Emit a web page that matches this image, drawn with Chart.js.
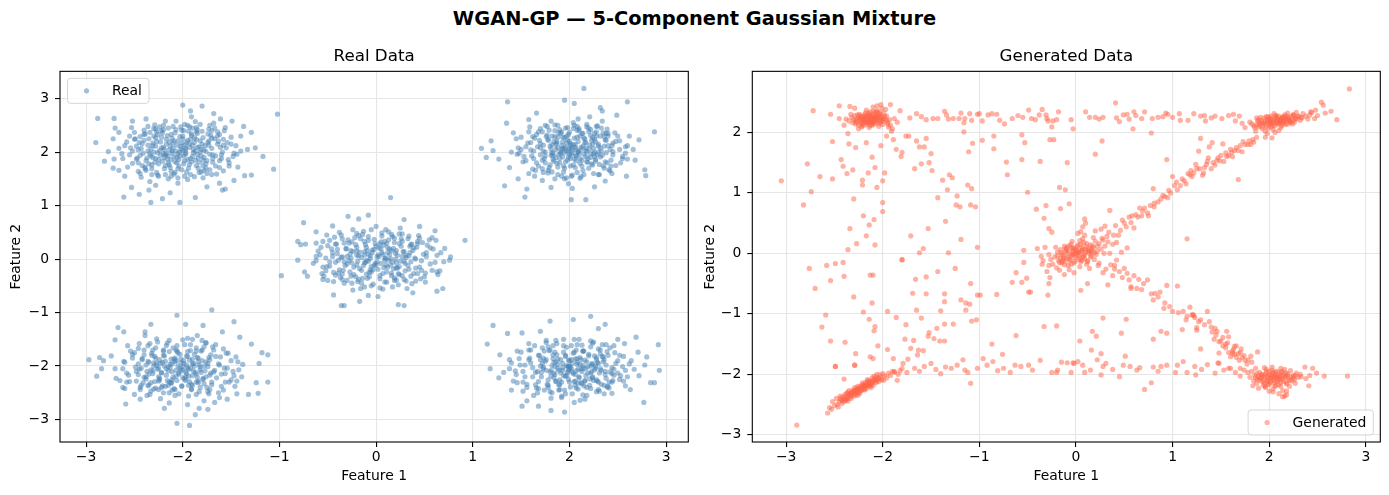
<!DOCTYPE html>
<html>
<head>
<meta charset="utf-8">
<script src="https://cdn.jsdelivr.net/npm/chart.js@4.4.1/dist/chart.umd.min.js"></script>
<style>
  body { margin: 0; background: #fff; width: 1389px; height: 495px; position: relative; overflow: hidden; font-family: "DejaVu Sans"; }
  #suptitle { position: absolute; top: 7px; left: 0; width: 1389px; text-align: center; font-weight: bold; font-size: 19.4px; line-height: 23px; color: #000; }
  .panel { position: absolute; top: 0; height: 495px; }
</style>
</head>
<body>
<div id="suptitle">WGAN-GP — 5-Component Gaussian Mixture</div>
<div class="panel" style="left:0;width:694px"><canvas id="realChart"></canvas></div>
<div class="panel" style="left:694px;width:695px"><canvas id="genChart"></canvas></div>
<script>
const axisTicks = [-3, -2, -1, 0, 1, 2, 3];
const genYTicks = [-3, -2, -1, 0, 1, 2];

// real data, one array per mixture component
const realTopLeft = [
  [-2.31,2.12],[-2.18,1.95],[-2.05,2.21],[-1.92,1.88],[-1.81,2.05],[-2.12,2.33],[-2.25,1.78],[-1.97,2.04],[-1.74,2.18],[-2.41,1.98],
  [-2.08,1.82],[-1.88,2.27],[-2.22,2.08],[-1.66,1.93],[-2.35,2.25],[-2.01,1.67],[-1.79,1.75],[-2.15,2.45],[-1.94,2.39],[-2.48,2.11],
  [-2.28,1.88],[-1.85,1.96],[-2.02,2.11],[-1.71,2.31],[-2.19,1.69],[-1.61,2.09],[-2.38,1.84],[-2.11,2.02],[-1.90,2.13],[-2.27,2.38],
  [-1.83,1.62],[-2.55,1.95],[-1.99,1.93],[-2.07,2.42],[-1.76,2.01],[-2.44,2.29],[-2.16,1.87],[-1.69,1.81],[-2.32,1.69],[-1.95,2.22],
  [-2.04,1.74],[-1.86,2.46],[-2.23,2.19],[-1.58,2.24],[-2.52,1.79],[-2.13,2.11],[-1.80,2.39],[-2.36,2.02],[-1.93,1.77],[-2.09,1.59],
  [-1.72,1.67],[-2.29,2.51],[-1.64,2.38],[-2.46,1.64],[-2.00,2.30],[-1.87,1.85],[-2.20,1.97],[-1.77,2.12],[-2.40,2.41],[-1.53,1.86],
  [-2.14,1.76],[-1.98,2.52],[-2.26,1.57],[-1.68,2.54],[-2.58,2.19],[-1.89,2.05],[-2.06,1.90],[-1.82,2.21],[-2.33,1.93],[-1.62,1.71],
  [-2.17,2.24],[-1.96,1.63],[-2.50,2.37],[-1.73,2.43],[-2.10,2.17],[-2.39,1.72],[-1.84,1.70],[-2.03,2.00],[-1.59,2.00],[-2.24,2.47],
  [-1.91,2.34],[-2.62,1.88],[-1.78,1.90],[-2.12,1.64],[-1.50,2.15],[-2.30,2.00],[-1.98,1.84],[-1.70,2.26],[-2.43,1.53],[-2.07,2.58],
  [-1.65,1.59],[-2.21,1.83],[-1.87,2.57],[-2.53,2.46],[-1.56,2.46],[-2.34,1.45],[-1.95,1.49],[-2.66,2.07],[-1.44,1.96],[-2.18,2.58],
  [-1.79,1.52],[-2.47,1.89],[-1.52,1.74],[-2.01,2.41],[-2.28,2.27],[-1.85,2.09],[-2.15,1.93],[-1.93,2.16],[-2.05,1.97],[-2.20,2.09],
  [-1.97,2.08],[-2.72,1.70],[-2.60,1.55],[-1.40,2.30],[-1.43,1.72],[-2.70,2.45],[-2.52,2.58],[-1.62,1.42],[-2.28,1.38],[-1.75,1.35],
  [-2.05,1.42],[-1.33,2.05],[-2.77,2.01],[-1.91,2.66],[-2.38,2.62],[-1.61,2.62],
  [-2.88,2.63],[-2.71,2.63],[-2.90,2.18],[-2.81,1.83],[-2.71,1.87],[-2.61,1.16],[-2.45,1.21],[-2.33,1.06],[-2.21,1.13],[-2.03,1.06],
  [-2.00,2.88],[-1.80,2.86],[-1.87,1.15],[-1.59,1.29],[-1.02,2.71],[-1.06,1.68],[-1.17,1.92],[-1.25,2.08],[-1.29,2.37],[-1.37,2.48],
  [-1.49,2.58],[-2.53,1.34],[-2.35,1.29],[-2.13,1.24],[-2.66,1.66],[-2.72,2.25],[-2.66,2.37],[-1.29,1.57],[-1.36,1.56],[-1.47,1.47],
  [-1.56,1.31],[-1.68,2.72],[-1.92,2.77],
  [-2.02,2.06],[-1.89,1.99],[-2.14,2.04],[-2.09,1.91],[-1.96,2.18],[-2.26,1.99],[-1.83,2.10],[-2.17,2.15],[-1.99,1.78],[-2.36,2.13],
  [-1.75,1.84],[-2.11,2.26],[-1.91,2.31],[-2.29,1.81],[-1.70,2.07],[-2.04,1.86],[-2.21,2.36],[-1.86,1.75],[-2.44,1.94],[-1.93,2.09],
  [-2.06,2.13],[-1.79,2.27],[-2.33,2.06],[-2.13,1.71],[-1.64,2.15],[-2.00,2.25],[-2.40,2.22],[-1.81,1.93],[-2.19,1.90],[-1.97,1.96],
  [-2.08,2.36],[-1.72,1.96],[-2.30,2.30],[-1.94,1.70],[-2.24,2.03],[-1.85,2.35],[-2.15,1.80],[-1.67,2.25],[-2.46,2.04],[-2.03,1.93],
  [-1.88,2.18],[-2.27,2.20],[-2.10,2.08],[-1.78,2.04],[-2.37,1.89],[-1.99,2.40],[-2.17,1.97],[-1.83,1.81],[-2.05,1.69],[-1.60,1.95],
  [-2.22,2.28],[-1.92,2.24],[-2.32,1.76],[-1.74,2.34],[-2.12,1.86],[-2.01,2.17],[-1.87,2.02],[-2.42,2.16],[-1.69,1.88],[-2.20,2.42],
  [-1.95,1.86],[-2.07,2.02],[-1.80,2.15],[-2.34,1.97],[-2.16,2.31],[-1.90,1.92],[-2.25,1.86],[-1.76,1.70],[-2.49,2.25],[-2.03,2.29],
  [-1.84,1.89],[-2.11,1.98],[-1.98,2.13],[-2.28,2.11],[-1.73,2.21],[-2.18,1.75],[-1.93,2.47],[-2.39,2.34],[-1.62,1.84],[-2.06,1.80],
  [-1.97,1.99],[-2.14,2.19],[-1.86,2.24],[-2.23,1.94],[-2.00,2.03],[-1.82,2.00],[-2.09,2.21],[-2.31,2.17],[-1.91,1.82],[-2.19,2.05],
  [-2.45,2.18],[-1.55,2.08],[-2.38,1.66],[-1.62,2.33],[-2.05,1.52],[-1.95,2.50],[-2.52,2.02],[-1.48,1.92],[-2.30,2.44],[-1.70,1.58],
  [-2.42,1.75],[-1.57,2.40],[-2.15,1.50],[-1.82,2.52],[-2.55,2.30],[-1.45,2.12],[-2.27,1.62],[-1.67,2.45],[-2.48,1.87],[-1.52,1.80],
  [-2.34,2.37],[-1.75,1.60],[-2.60,2.12],[-1.40,2.02],[-2.20,2.50],[-1.88,1.54],[-2.44,1.60],[-1.63,2.20],[-2.10,2.48],[-1.78,1.66],
  [-2.57,1.72],[-1.58,1.65],[-2.36,2.48],[-1.72,2.50],[-2.25,1.55],[-1.50,2.28],[-2.63,1.97],[-1.92,1.58],[-2.40,2.33],[-1.60,1.88],
  [-2.18,1.58],[-1.85,2.42],[-2.50,2.24],[-1.66,1.74],[-2.32,1.58],[-1.54,2.18],[-2.02,2.47],[-1.98,1.55],[-2.46,1.80],[-1.70,2.40],
  [-2.28,2.43],[-1.81,1.63],[-2.54,2.08],[-1.47,1.98],[-2.12,1.55],[-1.90,2.45],[-2.39,1.69],[-1.64,2.30],[-2.22,2.40],[-1.76,1.78],
  [-2.35,1.78],[-1.58,2.13],[-2.08,1.62],[-1.86,2.38],[-2.43,2.07],[-1.69,1.95],[-2.26,2.33],[-1.79,1.85],[-2.31,1.90],[-1.73,2.13]
];
const realTopRight = [
  [1.82,2.14],[2.07,1.93],[1.95,2.27],[2.21,2.06],[1.74,1.88],[2.13,2.35],[1.88,1.72],[2.32,1.91],[2.02,2.09],[1.69,2.22],
  [2.26,2.24],[1.91,1.97],[2.11,1.79],[1.79,2.41],[2.40,2.12],[1.98,1.85],[2.17,2.18],[1.63,2.02],[2.35,1.74],[1.86,2.05],
  [2.04,2.44],[2.28,2.38],[1.72,1.69],[2.09,2.01],[1.94,1.63],[2.45,2.01],[1.81,1.94],[2.19,1.88],[1.57,2.17],[2.00,2.20],
  [2.36,2.29],[1.89,2.36],[2.14,1.66],[1.66,1.80],[2.25,1.97],[1.97,2.02],[2.08,2.28],[1.76,2.29],[2.43,1.85],[1.84,1.83],
  [2.01,1.74],[2.30,2.11],[1.92,2.12],[2.18,2.47],[1.61,1.93],[2.05,1.87],[1.85,2.51],[2.38,1.99],[1.70,2.08],[2.12,2.09],
  [1.99,2.33],[2.23,1.78],[1.78,1.61],[2.52,2.21],[1.93,1.91],[2.15,1.96],[1.68,2.38],[2.29,2.49],[2.03,1.57],[1.87,2.20],
  [2.41,1.67],[1.55,1.84],[2.10,2.40],[1.80,1.76],[2.33,2.02],[1.96,2.45],[2.20,1.70],[1.73,2.13],[2.47,2.36],[2.06,2.14],
  [1.90,1.80],[2.27,1.83],[1.62,2.29],[2.16,2.25],[1.83,1.98],[2.39,2.43],[2.00,1.96],[1.75,2.00],[2.24,2.15],[1.95,1.70],
  [2.55,1.92],[1.88,2.28],[2.13,1.85],[1.65,1.66],[2.31,1.58],[2.04,2.55],[1.50,2.05],[2.22,2.31],[1.97,1.52],[2.58,2.10],
  [1.81,2.58],[2.11,1.51],[1.59,2.47],[2.44,1.60],[1.72,1.47],[2.34,2.58],[2.07,2.05],[1.93,2.07],[2.17,2.03],[1.86,1.90],
  [2.01,2.16],[2.26,1.92],[2.62,2.30],[1.46,1.96],[2.48,1.75],[1.77,2.48],[2.09,2.62],[1.99,1.41],[2.37,1.46],[1.64,1.55],
  [2.15,3.19],[1.36,2.94],[1.95,2.97],[2.05,2.91],[2.60,2.94],[2.88,2.38],[1.09,2.07],[1.14,1.90],[1.33,1.37],[1.54,1.16],
  [2.02,1.11],[2.17,1.11],[1.81,1.34],[2.78,1.67],[2.79,1.56],[2.72,2.23],[2.32,2.83],[2.34,2.77],[2.49,2.69],[1.66,2.73],
  [1.58,2.61],[1.19,2.21],[1.21,2.03],[1.27,1.87],[1.35,2.54],[2.26,1.35],[2.03,1.32],[2.59,1.55],[2.60,1.87],[2.68,1.85],
  [1.47,1.50],[1.56,1.31],[1.42,2.36],[2.66,2.05],[1.38,1.71],[2.21,2.66],
  [2.03,2.04],[1.89,1.96],[2.14,2.11],[1.97,2.17],[2.22,1.97],[1.81,2.06],[2.07,1.84],[1.93,2.28],[2.30,2.15],[1.75,1.93],
  [2.11,2.30],[1.99,1.91],[2.25,2.07],[1.86,2.14],[2.04,1.76],[2.37,2.23],[1.70,2.16],[2.17,1.92],[1.92,2.04],[2.09,2.20],
  [2.27,1.86],[1.83,1.86],[2.00,2.37],[2.42,2.05],[1.78,2.24],[2.13,1.74],[1.95,1.99],[2.20,2.38],[1.87,1.79],[2.34,1.94],
  [2.06,2.09],[1.73,2.02],[2.16,2.18],[1.91,2.35],[2.28,2.30],[2.01,1.88],[1.84,2.20],[2.39,1.80],[2.10,1.97],[1.96,2.10],
  [2.23,2.22],[1.79,1.71],[2.05,2.26],[2.32,2.08],[1.90,1.88],[2.12,2.04],[1.67,2.10],[2.19,1.81],[1.98,2.23],[2.45,2.17],
  [1.82,1.99],[2.08,2.41],[2.26,2.00],[1.94,1.74],[2.15,2.26],[1.77,2.32],[2.35,2.36],[2.02,1.95],[1.88,2.08],[2.21,2.13],
  [2.00,2.06],[1.85,2.29],[2.31,1.77],[2.07,1.93],[1.93,2.19],[2.18,2.01],[1.72,1.85],[2.40,2.30],[2.04,2.14],[1.96,1.82],
  [2.24,2.27],[1.80,2.11],[2.11,1.88],[1.99,2.02],[2.29,1.95],[1.90,2.42],[2.14,2.35],[1.83,1.93],[2.06,1.71],[2.36,2.11],
  [2.01,2.12],[1.91,2.00],[2.17,2.08],[1.97,2.30],[2.09,2.00],[2.27,2.19],[1.87,2.17],[2.03,1.99],[2.22,1.90],[1.95,2.07],
  [1.55,2.10],[2.45,1.95],[1.62,1.68],[2.38,2.35],[1.95,1.50],[2.05,2.50],[1.48,1.98],[2.52,2.05],[1.70,2.44],[2.30,1.58],
  [1.58,2.38],[2.43,1.74],[1.85,1.50],[2.18,2.52],[1.45,2.25],[2.55,1.88],[1.73,1.62],[2.33,2.45],[1.52,1.82],[2.48,2.20],
  [1.66,2.33],[2.25,1.60],[1.40,2.00],[2.60,2.12],[1.88,2.50],[2.12,1.54],[1.63,1.88],[2.40,2.35],[1.78,1.66],[2.22,2.42],
  [1.58,1.60],[2.42,1.65],[1.75,2.50],[2.28,2.48],[1.50,2.28],[2.58,1.98],[1.92,1.55],[2.08,2.48],[1.60,2.18],[2.37,1.82],
  [1.85,2.40],[2.15,1.58],[1.53,1.92],[2.50,2.30],[1.68,1.74],[2.32,2.30],[1.98,2.46],[2.02,1.55],[1.72,2.38],[2.44,2.12],
  [1.82,1.63],[2.20,2.45],[1.47,2.08],[2.53,1.80],[1.88,1.58],[2.10,2.44],[1.64,2.26],[2.36,1.70],[1.78,2.22],[2.24,1.76],
  [1.60,2.04],[2.38,2.22],[1.92,2.38],[2.08,1.62],[1.70,1.95],[2.30,2.00],[1.82,2.30],[2.18,1.82],[1.75,1.80],[2.26,2.35]
];
const realCenter = [
  [-0.12,0.08],[0.15,-0.11],[0.03,0.21],[-0.25,-0.07],[0.28,0.14],[-0.05,-0.24],[0.19,0.31],[-0.31,0.19],[0.09,-0.02],[-0.17,-0.18],
  [0.36,-0.05],[0.01,0.04],[-0.08,0.35],[0.24,-0.29],[-0.39,-0.02],[0.12,0.12],[-0.21,0.27],[0.42,0.22],[-0.02,-0.12],[0.31,0.03],
  [-0.14,-0.36],[0.06,0.43],[-0.34,-0.21],[0.18,-0.18],[-0.27,0.09],[0.45,-0.15],[-0.09,0.16],[0.22,0.07],[-0.45,0.12],[0.04,-0.31],
  [0.33,0.38],[-0.18,0.44],[0.11,-0.43],[-0.06,0.01],[0.26,0.24],[-0.37,-0.34],[0.39,-0.27],[-0.11,-0.06],[0.14,0.19],[-0.23,-0.29],
  [0.52,0.05],[-0.01,0.29],[0.29,-0.38],[-0.48,-0.13],[0.07,0.09],[-0.29,0.36],[0.48,0.31],[-0.15,0.03],[0.17,-0.06],[-0.03,-0.47],
  [0.35,0.12],[-0.41,0.28],[0.08,0.26],[-0.20,-0.11],[0.23,-0.48],[-0.52,0.02],[0.02,-0.19],[0.41,-0.41],[-0.13,0.52],[0.27,0.47],
  [-0.33,-0.45],[0.56,-0.09],[-0.07,-0.33],[0.13,0.36],[-0.26,0.16],[0.20,0.00],[-0.56,-0.27],[0.34,-0.19],[-0.10,0.22],[0.05,-0.08],
  [-0.43,0.41],[0.59,0.19],[-0.19,-0.42],[0.10,0.55],[-0.35,0.04],[0.44,0.44],[-0.04,0.12],[0.30,-0.08],[-0.60,0.15],[0.16,-0.26],
  [-0.28,-0.03],[0.63,-0.24],[0.00,0.61],[-0.16,-0.55],[0.37,0.28],[-0.50,-0.40],[0.21,0.16],[-0.08,-0.04],[0.50,-0.33],[-0.24,0.55],
  [0.07,-0.56],[-0.65,-0.08],[0.67,0.12],[-0.38,0.50],[0.32,-0.55],[-0.12,0.33],[0.25,0.58],[-0.55,0.33],[0.12,-0.15],[-0.02,0.18],
  [0.19,-0.35],[-0.32,-0.12],[0.40,0.02],[-0.06,-0.20],[0.09,0.02],[-0.20,0.07],[0.05,0.32],[0.24,-0.14],[-0.44,-0.25],[0.70,-0.05],
  [0.15,1.15],[-0.75,0.68],[-0.29,0.80],[-0.08,0.82],[0.92,0.35],[0.45,0.61],[0.61,0.53],[-0.62,0.51],[-0.81,0.33],[-0.78,0.27],
  [-0.73,0.28],[-0.51,0.45],[-0.18,0.75],[0.29,0.74],[0.62,0.35],[0.71,0.20],[-0.98,-0.31],[-0.81,-0.02],[-0.74,-0.24],[-0.71,-0.32],
  [-0.55,-0.38],[-0.36,-0.87],[-0.33,-0.87],[-0.17,-0.79],[-0.08,-0.68],[0.23,-0.85],[0.29,-0.87],[0.38,-0.63],[0.63,-0.60],[0.69,-0.55],
  [0.76,-0.02],[0.77,0.04],[-0.44,-0.67],[-0.24,-0.58],[0.51,-0.43],[0.66,-0.22],[-0.62,0.05],[0.58,0.40],[-0.45,0.62],[0.02,-0.70],
  [0.03,0.05],[-0.10,-0.02],[0.14,0.09],[-0.04,0.17],[0.21,-0.07],[-0.18,0.06],[0.08,-0.16],[-0.13,-0.12],[0.27,0.05],[-0.24,0.14],
  [0.00,0.24],[0.11,-0.24],[-0.30,-0.09],[0.18,0.20],[-0.07,-0.25],[0.33,-0.12],[-0.20,0.22],[0.06,0.12],[-0.15,-0.21],[0.24,0.29],
  [-0.36,0.03],[0.16,-0.31],[-0.01,-0.08],[0.38,0.16],[-0.27,-0.24],[0.09,0.33],[-0.11,0.27],[0.30,-0.22],[-0.42,-0.06],[0.04,-0.37],
  [0.20,0.11],[-0.06,0.06],[0.13,-0.02],[-0.23,-0.15],[0.41,0.00],[-0.16,0.38],[0.26,0.38],[-0.33,0.30],[0.10,-0.11],[-0.02,0.37],
  [0.35,0.24],[-0.39,-0.26],[0.15,0.01],[-0.09,-0.36],[0.22,-0.17],[-0.26,0.02],[0.02,0.08],[0.47,-0.21],[-0.12,0.14],[0.07,-0.27],
  [-0.21,-0.33],[0.29,0.14],[-0.05,-0.14],[0.12,0.21],[-0.31,0.20],[0.43,0.33],[-0.46,0.19],[0.19,-0.40],[-0.14,0.46],[0.01,-0.05],
  [0.25,-0.04],[-0.08,0.09],[0.17,0.42],[-0.35,-0.38],[0.36,-0.32],[-0.19,-0.04],[0.05,0.19],[-0.03,-0.20],[0.31,0.07],[-0.25,0.32],
  [0.10,0.02],[-0.12,-0.07],[0.00,-0.11],[0.16,0.16],[-0.17,0.13],[0.23,-0.27],[-0.40,0.10],[0.52,0.12],[-0.51,-0.14],[0.04,0.28],
  [-0.45,0.05],[0.47,-0.03],[-0.30,-0.40],[0.34,0.43],[-0.05,-0.50],[0.06,0.49],[-0.50,0.25],[0.51,-0.26],[-0.35,0.38],[0.31,-0.41],
  [-0.55,-0.15],[0.56,0.21],[-0.20,0.48],[0.17,-0.52],[-0.42,-0.30],[0.43,0.29],[-0.58,0.08],[0.61,-0.06],[-0.25,-0.45],[0.24,0.47],
  [-0.48,0.35],[0.46,-0.37],[-0.12,-0.52],[0.13,0.51],[-0.38,-0.20],[0.39,0.21],[-0.62,-0.03],[0.63,0.07],[-0.28,0.30],[0.27,-0.31],
  [-0.40,0.18],[0.41,-0.17],[-0.18,-0.38],[0.19,0.39],[-0.52,-0.22],[0.53,0.26],[-0.08,0.42],[0.09,-0.43],[-0.33,-0.05],[0.34,0.06],
  [-0.44,-0.42],[0.45,0.39],[-0.22,0.40],[0.21,-0.39],[-0.57,0.22],[0.58,-0.21],[-0.15,-0.45],[0.16,0.46],[-0.36,0.45],[0.37,-0.46],
  [-0.48,-0.05],[0.49,0.09],[-0.26,-0.32],[0.27,0.33],[-0.05,0.55],[0.04,-0.54],[-0.62,0.30],[0.64,-0.29],[-0.30,0.05],[0.29,-0.04],
  [-0.42,0.28],[0.43,-0.27],[-0.10,-0.28],[0.11,0.29],[-0.54,-0.32],[0.55,0.36],[-0.20,0.15],[0.21,-0.16],[-0.35,-0.28],[0.36,0.27]
];
const realBottomLeft = [
  [-2.21,-1.93],[-1.87,-2.12],[-2.03,-1.78],[-2.35,-2.15],[-1.74,-1.95],[-2.12,-2.31],[-1.95,-2.03],[-2.42,-1.86],[-1.81,-1.72],[-2.07,-2.19],
  [-2.28,-2.41],[-1.65,-2.22],[-1.98,-1.60],[-2.17,-2.05],[-1.90,-2.36],[-2.49,-2.02],[-1.77,-2.09],[-2.31,-1.70],[-2.00,-2.22],[-1.61,-1.83],
  [-2.24,-2.26],[-1.93,-1.89],[-2.55,-2.29],[-1.83,-2.48],[-2.10,-1.66],[-2.38,-1.98],[-1.70,-2.35],[-2.05,-2.00],[-2.19,-1.81],[-1.57,-2.04],
  [-2.44,-2.44],[-1.96,-2.14],[-2.27,-1.94],[-1.85,-1.84],[-2.14,-2.50],[-1.69,-1.64],[-2.61,-1.91],[-2.01,-2.37],[-1.79,-2.23],[-2.33,-2.31],
  [-2.09,-1.87],[-1.52,-2.30],[-2.46,-1.67],[-1.92,-1.71],[-2.22,-2.13],[-1.73,-2.52],[-2.58,-2.13],[-1.88,-2.00],[-2.16,-1.57],[-1.63,-1.96],
  [-2.37,-2.55],[-2.02,-2.08],[-1.80,-1.90],[-2.29,-1.82],[-1.58,-2.45],[-2.11,-2.26],[-1.94,-2.56],[-2.52,-1.78],[-1.71,-1.79],[-2.25,-2.04],
  [-1.99,-1.95],[-2.40,-2.21],[-1.84,-2.31],[-2.65,-2.27],[-1.48,-2.10],[-2.18,-2.38],[-1.76,-1.57],[-2.34,-1.58],[-2.06,-1.72],[-1.90,-2.18],
  [-2.45,-2.06],[-1.67,-2.08],[-2.13,-1.96],[-2.70,-2.05],[-1.55,-1.76],[-2.23,-2.61],[-1.97,-2.27],[-2.31,-2.09],[-1.86,-1.66],[-2.08,-2.44],
  [-1.62,-2.59],[-2.57,-1.62],[-1.43,-1.92],[-2.20,-1.72],[-1.75,-2.40],[-2.43,-2.36],[-1.95,-1.82],[-2.04,-2.13],[-2.15,-2.01],[-1.82,-2.02],
  [-2.36,-1.91],[-1.60,-2.15],[-2.62,-2.40],[-2.00,-1.51],[-1.78,-2.65],[-2.27,-1.49],[-1.46,-2.38],[-2.50,-2.53],[-1.91,-2.44],[-2.11,-2.11],
  [-1.94,-2.06],[-2.25,-2.20],[-1.72,-2.17],[-2.07,-1.90],[-1.89,-1.95],[-2.74,-1.81],[-1.39,-2.20],[-2.14,-2.69],[-1.85,-1.43],[-2.39,-1.43],
  [-2.97,-1.88],[-2.89,-2.19],[-2.86,-1.84],[-2.82,-1.90],[-2.84,-2.05],[-2.70,-1.51],[-2.67,-1.28],[-2.61,-1.36],[-2.59,-2.71],[-2.44,-2.62],
  [-2.19,-2.79],[-2.06,-1.05],[-2.06,-3.07],[-1.93,-3.11],[-1.87,-2.91],[-1.70,-0.95],[-1.47,-1.17],[-1.41,-1.46],[-1.29,-1.59],[-1.18,-1.75],
  [-1.12,-1.79],[-1.21,-1.95],[-1.24,-2.31],[-1.12,-2.30],[-1.22,-2.51],[-1.32,-2.53],[-1.44,-2.52],[-1.54,-2.62],[-1.67,-2.68],[-1.74,-2.81],
  [-1.83,-2.79],[-1.95,-2.72],[-2.34,-2.53],[-2.60,-2.42],[-2.69,-2.23],[-2.39,-1.36],[-2.33,-1.22],[-1.97,-1.22],[-1.79,-1.24],[-1.59,-1.36],
  [-2.03,-2.04],[-1.90,-1.96],[-2.15,-2.09],[-1.97,-2.20],[-2.23,-1.95],[-1.82,-2.07],[-2.08,-1.85],[-1.93,-2.29],[-2.31,-2.14],[-1.76,-1.92],
  [-2.12,-2.32],[-1.99,-1.90],[-2.26,-2.06],[-1.86,-2.15],[-2.05,-1.75],[-2.38,-2.24],[-1.71,-2.13],[-2.18,-1.91],[-1.92,-2.04],[-2.10,-2.21],
  [-2.28,-1.85],[-1.84,-1.85],[-2.01,-2.38],[-2.43,-2.04],[-1.79,-2.25],[-2.14,-1.73],[-1.96,-1.98],[-2.21,-2.37],[-1.88,-1.78],[-2.35,-1.93],
  [-2.07,-2.08],[-1.74,-2.01],[-2.17,-2.17],[-1.91,-2.34],[-2.29,-2.29],[-2.02,-1.87],[-1.85,-2.21],[-2.40,-1.79],[-2.11,-1.96],[-1.97,-2.11],
  [-2.24,-2.23],[-1.80,-1.70],[-2.06,-2.27],[-2.33,-2.07],[-1.90,-1.87],[-2.13,-2.03],[-1.68,-2.11],[-2.20,-1.80],[-1.98,-2.24],[-2.46,-2.16],
  [-1.83,-1.98],[-2.09,-2.42],[-2.27,-1.99],[-1.95,-1.73],[-2.16,-2.27],[-1.78,-2.33],[-2.36,-2.37],[-2.02,-1.94],[-1.89,-2.09],[-2.22,-2.12],
  [-2.00,-2.07],[-1.86,-2.30],[-2.32,-1.76],[-2.08,-1.92],[-1.94,-2.19],[-2.19,-2.00],[-1.73,-1.84],[-2.41,-2.31],[-2.04,-2.15],[-1.96,-1.81],
  [-2.25,-2.28],[-1.81,-2.12],[-2.12,-1.87],[-2.00,-2.01],[-2.30,-1.94],[-1.91,-2.43],[-2.15,-2.36],[-1.84,-1.92],[-2.07,-1.70],[-2.37,-2.10],
  [-2.46,-1.96],[-1.54,-2.04],[-2.30,-2.43],[-1.66,-1.60],[-2.04,-2.52],[-1.95,-1.48],[-2.50,-1.75],[-1.50,-2.26],[-2.36,-1.62],[-1.72,-2.44],
  [-2.56,-2.17],[-1.45,-1.83],[-2.20,-2.50],[-1.80,-1.52],[-2.44,-2.40],[-1.58,-1.68],[-2.60,-1.93],[-1.42,-2.07],[-2.26,-1.55],[-1.74,-2.48],
  [-2.48,-2.28],[-1.53,-1.76],[-2.14,-1.52],[-1.86,-2.53],[-2.40,-1.70],[-1.60,-2.38],[-2.62,-2.05],[-1.38,-1.97],[-2.25,-2.44],[-1.76,-1.56],
  [-2.52,-1.85],[-1.47,-2.18],[-2.33,-2.47],[-1.68,-1.70],[-2.08,-2.55],[-1.90,-1.50],[-2.45,-1.58],[-1.56,-2.30],[-2.28,-1.66],[-1.63,-2.50],
  [-2.58,-2.30],[-1.50,-1.90],[-2.17,-1.62],[-1.82,-2.40],[-2.38,-2.20],[-1.66,-1.82],[-2.54,-1.72],[-1.44,-2.28],[-2.22,-2.40],[-1.78,-1.64],
  [-2.42,-1.88],[-1.56,-2.14],[-2.11,-2.45],[-1.92,-1.60],[-2.32,-1.80],[-1.70,-2.30],[-2.48,-2.10],[-1.62,-1.98],[-2.20,-1.70],[-1.84,-2.28],
  [-2.35,-2.35],[-1.72,-1.88],[-2.06,-1.62],[-1.94,-2.36],[-2.30,-2.00],[-1.78,-2.00],[-2.14,-2.30],[-1.86,-1.72],[-2.24,-1.88],[-1.76,-2.20]
];
const realBottomRight = [
  [1.93,-2.08],[2.16,-1.89],[1.81,-2.19],[2.27,-2.04],[2.04,-1.76],[1.72,-1.95],[2.09,-2.32],[2.35,-1.83],[1.88,-1.87],[2.01,-2.02],
  [1.65,-2.12],[2.21,-2.24],[1.97,-1.65],[2.42,-2.11],[1.78,-2.36],[2.12,-2.06],[1.85,-2.01],[2.30,-1.68],[1.59,-1.85],[2.06,-2.16],
  [1.95,-2.45],[2.24,-1.96],[1.74,-1.72],[2.48,-1.95],[2.00,-1.90],[1.68,-2.29],[2.15,-1.72],[1.90,-2.26],[2.33,-2.34],[1.83,-1.79],
  [2.08,-1.97],[2.39,-1.73],[1.62,-2.03],[2.19,-2.13],[1.97,-2.18],[1.76,-2.08],[2.26,-1.81],[2.03,-2.52],[1.54,-2.20],[2.45,-2.27],
  [1.87,-1.58],[2.11,-1.84],[1.80,-2.48],[2.55,-2.01],[1.99,-2.09],[2.22,-2.42],[1.70,-1.88],[2.13,-1.61],[1.93,-1.95],[2.37,-2.16],
  [1.58,-1.70],[2.05,-2.29],[1.84,-2.13],[2.29,-1.93],[1.66,-2.41],[2.52,-1.80],[1.96,-1.80],[2.18,-2.55],[1.73,-2.05],[2.10,-2.20],
  [2.41,-2.41],[1.89,-2.35],[2.02,-1.62],[1.49,-1.98],[2.32,-2.05],[1.78,-1.64],[2.60,-2.20],[2.07,-2.41],[1.92,-2.59],[2.20,-1.78],
  [1.63,-2.55],[2.46,-1.62],[2.14,-1.99],[1.86,-1.92],[2.28,-2.26],[1.98,-2.02],[1.69,-1.80],[2.36,-1.88],[2.03,-2.11],[1.81,-2.60],
  [2.58,-2.37],[1.56,-2.34],[2.25,-1.55],[1.94,-1.50],[2.44,-2.51],[1.71,-2.20],[2.11,-2.64],[2.64,-1.90],[1.44,-2.09],[2.17,-2.05],
  [1.91,-2.13],[2.06,-1.87],[2.31,-2.47],[1.76,-1.52],[2.50,-2.13],[2.00,-2.30],[1.85,-1.74],[2.23,-2.10],[1.99,-2.00],[2.09,-2.06],
  [1.60,-1.94],[2.38,-1.60],[2.67,-2.06],[1.52,-2.47],[2.13,-2.33],[1.88,-2.05],
  [1.21,-1.24],[1.15,-1.59],[1.18,-2.05],[1.28,-1.79],[1.36,-1.39],[1.51,-1.38],[1.80,-1.16],[2.04,-1.13],[2.22,-1.07],[2.37,-1.22],
  [2.50,-1.50],[2.69,-1.46],[2.92,-1.60],[2.93,-2.08],[2.88,-2.31],[2.84,-2.31],[2.77,-2.68],[2.78,-1.98],[2.80,-1.83],[2.71,-1.74],
  [1.95,-2.86],[1.81,-2.83],[1.68,-2.75],[1.51,-2.75],[1.56,-2.65],[1.40,-2.45],[1.46,-2.31],[2.05,-2.68],[2.16,-2.62],[2.63,-2.44],
  [2.39,-2.39],[1.32,-2.12],[1.38,-1.88],[2.57,-1.58],[1.70,-1.35],[2.30,-1.30],[1.27,-2.22],[2.72,-2.18],
  [2.02,-2.05],[1.88,-1.97],[2.13,-2.10],[1.96,-2.19],[2.23,-1.96],[1.81,-2.08],[2.08,-1.86],[1.92,-2.30],[2.31,-2.13],[1.75,-1.91],
  [2.12,-2.31],[1.99,-1.89],[2.26,-2.07],[1.85,-2.16],[2.05,-1.74],[2.38,-2.23],[1.71,-2.12],[2.18,-1.92],[1.93,-2.03],[2.10,-2.22],
  [2.28,-1.84],[1.83,-1.86],[2.01,-2.39],[2.44,-2.03],[1.78,-2.26],[2.14,-1.72],[1.97,-1.99],[2.21,-2.36],[1.87,-1.79],[2.35,-1.92],
  [2.07,-2.09],[1.73,-2.02],[2.17,-2.18],[1.90,-2.35],[2.29,-2.28],[2.02,-1.88],[1.84,-2.22],[2.40,-1.80],[2.11,-1.97],[1.98,-2.12],
  [2.24,-2.22],[1.79,-1.71],[2.06,-2.28],[2.33,-2.08],[1.91,-1.88],[2.14,-2.04],[1.67,-2.10],[2.20,-1.81],[1.99,-2.25],[2.46,-2.17],
  [1.82,-1.99],[2.09,-2.43],[2.27,-2.00],[1.94,-1.74],[2.16,-2.27],[1.77,-2.34],[2.36,-2.36],[2.03,-1.95],[1.89,-2.08],[2.22,-2.13],
  [2.00,-2.06],[1.86,-2.29],[2.32,-1.77],[2.08,-1.93],[1.94,-2.18],[2.19,-2.01],[1.73,-1.85],[2.41,-2.30],[2.04,-2.14],[1.96,-1.82],
  [2.25,-2.27],[1.80,-2.11],[2.12,-1.88],[2.00,-2.00],[2.30,-1.95],[1.90,-2.44],[2.15,-2.37],[1.84,-1.93],[2.07,-1.70],[2.37,-2.10],
  [1.54,-1.98],[2.46,-2.06],[1.68,-2.42],[2.34,-1.60],[1.96,-2.52],[2.05,-1.50],[1.50,-1.74],[2.52,-2.25],[1.64,-1.62],[2.30,-2.44],
  [1.45,-2.16],[2.56,-1.82],[1.82,-2.50],[2.22,-1.53],[1.56,-2.40],[2.42,-1.66],[1.40,-1.94],[2.58,-2.08],[1.76,-1.56],[2.28,-2.48],
  [1.52,-2.30],[2.47,-1.75],[1.86,-1.52],[2.14,-2.54],[1.60,-1.70],[2.40,-2.38],[1.38,-2.05],[2.62,-1.96],[1.74,-2.45],[2.24,-1.57],
  [1.48,-1.86],[2.53,-2.18],[1.67,-2.50],[2.32,-1.70],[1.92,-2.56],[2.10,-1.50],[1.58,-1.58],[2.44,-2.30],[1.72,-1.66],[2.36,-2.52],
  [1.42,-2.28],[2.50,-1.90],[1.83,-1.62],[2.18,-2.40],[1.62,-2.20],[2.34,-1.82],[1.46,-1.72],[2.56,-2.28],[1.78,-2.40],[2.22,-1.64],
  [1.58,-1.88],[2.44,-2.14],[1.89,-2.45],[2.08,-1.60],[1.68,-1.80],[2.30,-2.30],[1.52,-2.10],[2.38,-1.98],[1.80,-1.70],[2.16,-2.28],
  [1.65,-2.35],[2.28,-1.88],[1.94,-1.62],[2.06,-2.36],[1.70,-2.00],[2.22,-2.00],[1.86,-2.28],[2.14,-1.72],[1.76,-1.88],[2.24,-2.20]
];

// generated data, grouped by the structures visible in the picture
const genTopLeft = [
  [-2.20,2.22],[-2.13,2.18],[-2.05,2.25],[-2.27,2.17],[-2.10,2.30],[-2.16,2.13],[-2.02,2.19],[-2.23,2.27],[-2.08,2.14],[-2.30,2.21],
  [-1.98,2.23],[-2.12,2.24],[-2.18,2.32],[-2.25,2.12],[-2.06,2.36],[-2.00,2.13],[-2.15,2.20],[-2.32,2.25],[-2.09,2.20],[-1.95,2.17],
  [-2.21,2.15],[-2.03,2.29],[-2.14,2.08],[-2.26,2.29],[-2.11,2.16],[-1.99,2.32],[-2.07,2.23],[-2.19,2.26],[-2.35,2.19],[-2.04,2.10],
  [-2.17,2.37],[-2.01,2.40],[-2.10,2.42],[-1.96,2.27],[-2.23,2.20],[-2.12,2.27],[-2.28,2.14],[-2.05,2.16],[-1.93,2.21],[-2.16,2.24],
  [-2.08,2.33],[-2.22,2.09],[-2.02,2.46],[-2.06,2.44],[-1.92,2.12],[-1.90,2.06],[-1.91,2.02],[-1.94,2.09],[-2.14,2.29],[-2.24,2.23],
  [-2.00,2.21],[-2.11,2.12],[-2.18,2.18],[-2.29,2.28],[-2.07,2.27],[-2.13,2.34],[-1.97,2.38],[-2.38,2.22],[-2.04,2.20],[-2.20,2.11],
  [-2.25,2.06],[-2.15,2.16],[-2.09,2.25],[-2.01,2.26],[-2.31,2.16],[-2.19,2.20],[-1.95,2.14],[-2.33,2.30],[-2.03,2.33],[-2.10,2.21],
  [-2.72,2.36],[-2.54,2.30],[-2.45,2.44],[-2.34,2.43],[-1.92,2.46],[-1.82,2.36],[-1.65,2.31],[-2.36,1.98],[-2.45,2.23],[-2.40,2.12],
  [-2.29,2.40],[-1.88,2.23],[-1.85,2.17],
  [-2.14,2.21],[-2.10,2.19],[-2.18,2.24],[-2.06,2.22],[-2.22,2.19],[-2.12,2.26],[-2.16,2.16],[-2.08,2.28],[-2.25,2.25],[-2.02,2.24],
  [-2.19,2.29],[-2.11,2.14],[-2.04,2.31],[-2.27,2.22],[-2.09,2.17],[-2.15,2.32],[-2.21,2.13],[-2.00,2.18],[-2.13,2.23],[-2.07,2.20],
  [-2.17,2.27],[-2.23,2.16],[-2.05,2.27],[-2.12,2.18],[-2.20,2.21],[-1.98,2.27],[-2.10,2.35],[-2.24,2.30],[-2.03,2.15],[-2.16,2.20],
  [-2.08,2.24],[-2.14,2.28],[-2.28,2.19],[-2.01,2.21],[-2.18,2.17],[-2.06,2.34],[-2.11,2.22],[-1.96,2.20],[-2.22,2.26],[-2.13,2.12]
];
const genTopRight = [
  [1.90,2.12],[1.98,2.18],[2.05,2.14],[2.12,2.22],[1.85,2.08],[2.20,2.25],[1.95,2.24],[2.08,2.19],[2.02,2.09],[2.15,2.16],
  [1.88,2.19],[2.25,2.29],[2.00,2.13],[2.10,2.27],[1.93,2.06],[2.18,2.21],[2.30,2.26],[1.82,2.14],[2.06,2.23],[1.97,2.10],
  [2.22,2.18],[2.13,2.11],[2.35,2.31],[1.91,2.25],[2.03,2.20],[2.27,2.22],[1.86,2.02],[2.16,2.29],[2.09,2.15],[1.99,2.26],
  [2.24,2.14],[2.38,2.27],[2.11,2.19],[1.94,2.15],[2.19,2.32],[2.04,2.05],[2.32,2.20],[1.89,2.21],[2.14,2.25],[2.01,2.17],
  [2.28,2.33],[1.84,2.11],[2.07,2.28],[2.21,2.21],[1.96,2.02],[2.42,2.29],[2.12,2.08],[2.26,2.17],[1.92,2.16],[2.17,2.13],
  [2.05,2.31],[2.34,2.24],[1.80,2.17],[2.00,2.23],[2.10,2.03],[2.23,2.27],[1.87,2.24],[2.44,2.33],[2.15,2.20],[2.02,2.27],
  [1.98,1.98],[2.06,2.00],[1.84,1.84],[1.87,1.92],[1.96,1.92],[2.03,1.91],[1.81,1.80],[2.40,2.22],
  [2.54,2.50],[2.56,2.45],[2.64,2.35],[2.70,2.21],[2.83,2.72],[2.47,2.23],[2.43,2.34],[2.50,2.28],[2.48,2.37],[2.58,2.32],
  [1.75,2.08],[1.72,2.15],
  [2.04,2.17],[1.96,2.14],[2.12,2.20],[2.20,2.22],[1.90,2.16],[2.08,2.24],[2.00,2.19],[2.16,2.19],[2.26,2.25],[1.93,2.10],
  [2.10,2.14],[2.02,2.23],[2.18,2.27],[1.87,2.13],[2.24,2.20],[2.06,2.11],[1.98,2.21],[2.14,2.15],[2.30,2.27],[2.09,2.21],
  [1.95,2.18],[2.22,2.16],[2.01,2.15],[2.13,2.24],[1.89,2.09],[2.28,2.22],[2.05,2.19],[2.17,2.23],[1.97,2.26],[2.11,2.17],
  [2.33,2.25],[2.03,2.12],[2.19,2.14],[1.92,2.20],[2.07,2.27],[2.25,2.29],[1.99,2.07],[2.15,2.26],[2.21,2.19],[2.08,2.16]
];
const genCenter = [
  [0.00,0.00],[0.05,0.03],[-0.05,-0.04],[0.10,0.06],[-0.10,-0.08],[0.03,-0.10],[-0.03,0.09],[0.14,0.00],[-0.14,-0.02],[0.07,-0.06],
  [-0.07,0.04],[0.18,0.10],[-0.18,-0.12],[0.02,0.14],[-0.02,-0.16],[0.12,-0.12],[-0.12,0.12],[0.22,0.04],[-0.22,-0.06],[0.08,0.18],
  [-0.08,-0.20],[0.16,-0.04],[-0.16,0.06],[0.04,-0.22],[-0.04,0.20],[0.24,0.16],[-0.24,-0.18],[0.11,0.11],[-0.11,-0.13],[0.19,-0.10],
  [-0.19,0.02],[0.01,0.06],[-0.01,-0.07],[0.06,0.10],[-0.06,-0.12],[0.13,0.04],[-0.13,-0.05],[0.09,-0.02],[-0.09,0.00],[0.20,0.20],
  [-0.20,-0.24],[0.15,0.14],[-0.15,-0.16],[0.03,0.02],[-0.03,-0.01],[0.26,0.07],[-0.26,-0.10],[0.05,-0.14],[-0.05,0.15],[0.17,0.03],
  [-0.17,-0.28],[0.11,-0.18],[-0.11,0.08],[0.28,0.22],[-0.28,-0.02],[0.07,0.24],[-0.07,-0.27],[0.21,-0.02],[-0.21,0.10],[0.00,-0.03],
  [0.09,0.30],[0.07,0.44],[0.05,0.36],[0.02,0.33],[0.09,0.57],[0.10,0.50],[-0.30,-0.30],[-0.28,-0.20],[0.30,0.12],[0.14,-0.25],
  [-0.02,-0.32],[-0.12,-0.35],[0.23,-0.20],[-0.34,-0.12],[0.32,0.28],[0.18,0.26],
  [0.12,-0.50],[0.05,-0.61],[-0.27,-0.40],[-0.28,-0.50],[-0.29,-0.69],[-0.25,0.35],[0.26,0.40],[0.35,0.00],[0.40,-0.20],[-0.40,0.08],
  [-0.36,-0.05],[0.20,0.37],[-0.32,0.10],[-0.35,-0.18],[0.42,0.18],[0.28,-0.32],
  [0.02,0.01],[-0.04,-0.02],[0.06,0.05],[-0.08,-0.06],[0.10,0.02],[-0.02,0.07],[0.04,-0.07],[-0.11,0.03],[0.13,0.08],[-0.06,-0.10],
  [0.08,-0.04],[-0.13,-0.09],[0.01,0.11],[-0.01,-0.13],[0.15,-0.06],[-0.15,0.01],[0.05,0.15],[-0.09,0.10],[0.12,-0.14],[-0.03,0.03],
  [0.17,0.12],[-0.17,-0.15],[0.07,0.07],[-0.05,-0.18],[0.19,0.01],[-0.19,-0.04],[0.03,-0.02],[-0.07,0.13],[0.11,0.16],[-0.12,-0.19],
  [0.09,-0.09],[-0.10,0.06],[0.14,0.03],[-0.14,-0.13],[0.00,0.04],[0.06,-0.12],[-0.04,0.09],[0.16,0.06],[-0.16,-0.08],[0.04,0.21]
];
const genBottomLeft = [
  [-2.45,-2.45],[-2.40,-2.40],[-2.36,-2.38],[-2.32,-2.32],[-2.28,-2.30],[-2.25,-2.25],[-2.22,-2.22],[-2.18,-2.20],[-2.15,-2.15],[-2.12,-2.13],
  [-2.08,-2.10],[-2.05,-2.06],[-2.02,-2.05],[-1.98,-2.02],[-2.42,-2.48],[-2.38,-2.43],[-2.34,-2.35],[-2.30,-2.36],[-2.27,-2.27],[-2.23,-2.28],
  [-2.20,-2.17],[-2.17,-2.24],[-2.14,-2.10],[-2.10,-2.18],[-2.07,-2.05],[-2.04,-2.12],[-2.00,-1.99],[-1.96,-2.06],[-2.48,-2.40],[-2.44,-2.36],
  [-2.39,-2.33],[-2.35,-2.27],[-2.31,-2.26],[-2.26,-2.20],[-2.21,-2.14],[-2.16,-2.09],[-2.11,-2.06],[-2.06,-2.00],[-2.50,-2.52],[-2.47,-2.50],
  [-2.43,-2.42],[-2.37,-2.31],[-2.33,-2.40],[-2.29,-2.22],[-2.24,-2.32],[-2.19,-2.26],[-2.13,-2.19],[-2.09,-2.03],[-2.01,-2.09],[-1.94,-1.98],
  [-1.92,-2.02],[-1.90,-1.95],[-2.52,-2.45],[-2.46,-2.54],[-2.41,-2.37],[-2.36,-2.44],[-2.31,-2.30],[-2.26,-2.35],[-2.21,-2.19],[-2.16,-2.18],
  [-2.12,-2.22],[-2.07,-2.14],[-2.03,-2.01],[-1.99,-2.10],[-2.55,-2.55],[-2.57,-2.64],[-2.53,-2.58],[-2.40,-2.45],[-2.28,-2.26],[-2.18,-2.14],
  [-2.89,-2.84],[-2.40,-2.08],[-2.29,-1.85],[-2.49,-1.87],[-1.85,-2.10],[-1.88,-1.96],[-1.84,-2.00],[-1.82,-1.94],
  [-2.38,-2.37],[-2.34,-2.33],[-2.31,-2.33],[-2.29,-2.27],[-2.26,-2.28],[-2.24,-2.22],[-2.21,-2.23],[-2.19,-2.18],[-2.17,-2.19],[-2.14,-2.14],
  [-2.12,-2.16],[-2.10,-2.11],[-2.07,-2.09],[-2.04,-2.07],[-2.37,-2.41],[-2.33,-2.37],[-2.30,-2.29],[-2.27,-2.31],[-2.25,-2.24],[-2.22,-2.26],
  [-2.20,-2.20],[-2.18,-2.22],[-2.15,-2.17],[-2.13,-2.12],[-2.11,-2.14],[-2.09,-2.08],[-2.06,-2.11],[-2.42,-2.43],[-2.39,-2.42],[-2.35,-2.34],
  [-2.32,-2.29],[-2.28,-2.34],[-2.23,-2.19],[-2.16,-2.12],[-2.20,-2.25],[-2.25,-2.30],[-2.14,-2.20],[-2.44,-2.40],[-2.36,-2.30],[-2.27,-2.24]
];
const genBottomRight = [
  [2.00,-2.00],[1.95,-2.04],[2.05,-1.98],[2.10,-2.05],[1.90,-1.97],[2.15,-2.01],[1.98,-2.10],[2.08,-2.12],[1.85,-2.02],[2.20,-2.07],
  [2.03,-1.93],[1.93,-2.12],[2.13,-1.95],[2.25,-2.02],[1.88,-2.08],[2.07,-2.18],[1.97,-1.92],[2.18,-2.14],[2.02,-2.06],[1.82,-1.95],
  [2.28,-1.98],[2.11,-2.09],[1.92,-2.00],[2.04,-2.24],[2.16,-1.92],[1.87,-2.15],[2.23,-2.11],[1.99,-2.16],[2.09,-1.96],[2.30,-2.05],
  [1.95,-1.89],[2.12,-2.20],[1.80,-2.05],[2.06,-2.03],[2.19,-1.99],[2.01,-2.13],[1.91,-2.06],[2.14,-2.27],[2.26,-2.09],[1.96,-2.22],
  [2.22,-1.94],[2.03,-1.88],[1.86,-1.90],[2.17,-2.04],[2.08,-2.01],[1.94,-2.18],[2.27,-2.15],[2.00,-2.28],[2.12,-1.90],[1.84,-2.11],
  [2.32,-2.00],[2.05,-2.10],[1.98,-2.04],[2.21,-2.20],[2.10,-2.32],[2.16,-2.36],[2.18,-2.28],[1.89,-2.23],[1.83,-2.19],[1.78,-1.97],
  [2.37,-1.88],[2.45,-1.90],[2.49,-1.98],[2.57,-2.03],[2.41,-2.19],[2.33,-2.04],[2.81,-2.03],[2.18,-2.34],[2.14,-2.37],[2.04,-2.29],
  [1.96,-2.20],[2.38,-2.07],[2.42,-2.02],[1.74,-1.93],[1.70,-2.03],
  [2.01,-2.02],[1.96,-2.00],[2.06,-2.04],[2.11,-2.01],[1.92,-2.05],[2.16,-2.05],[1.99,-2.07],[2.04,-1.97],[2.09,-2.09],[1.87,-1.99],
  [2.14,-2.08],[2.02,-2.10],[1.94,-2.09],[2.19,-2.02],[2.07,-1.95],[1.97,-1.96],[2.12,-2.13],[2.23,-2.04],[1.89,-2.04],[2.05,-2.14],
  [2.00,-1.95],[2.17,-1.98],[1.93,-2.01],[2.08,-2.06],[2.21,-2.10],[1.98,-2.12],[2.13,-1.97],[2.03,-2.01],[1.90,-2.10],[2.25,-2.06],
  [2.10,-2.17],[1.95,-2.15],[2.15,-2.12],[2.06,-2.20],[2.27,-2.02],[1.86,-2.06],[2.00,-2.17],[2.18,-2.16],[2.04,-2.06],[2.12,-2.04]
];
const genTopBand = [
  [-1.48,2.23],[-1.43,2.23],[-1.36,2.35],[-1.34,2.29],[-1.27,2.23],[-1.21,2.23],[-1.15,2.23],[-1.16,2.16],[-1.10,2.31],[-1.08,2.20],
  [-1.02,2.30],[-1.00,2.31],[-0.97,2.19],[-0.91,2.29],[-0.87,2.31],[-0.82,2.30],[-0.79,2.20],[-0.74,2.14],[-0.60,2.28],[-0.49,2.37],
  [-0.46,2.23],[-0.42,2.21],[-0.38,2.29],[-0.35,2.38],[-0.31,2.29],[-0.29,2.19],[-0.24,2.19],[-0.20,2.21],[-0.18,2.34],[-0.25,2.09],
  [0.10,2.34],[0.14,2.25],[0.20,2.25],[0.41,2.49],[0.42,2.24],[0.45,2.18],[0.49,2.29],[0.53,2.30],[0.60,2.34],[0.59,2.06],
  [0.68,2.23],[0.71,2.34],[0.79,2.23],[0.78,1.99],[0.85,2.25],[0.93,2.32],[0.95,2.30],[1.07,2.31],[1.08,2.20],[1.16,2.20],
  [1.22,2.31],[1.29,2.27],[1.34,2.19],[1.33,2.28],[1.44,2.27],[1.51,2.23],[1.58,2.28],[1.63,2.30],[1.69,2.27],[1.65,2.19],
  [-1.72,2.24],[-1.60,2.26],[-1.55,2.21],[-1.19,2.32],[-0.55,2.25],[-0.05,2.21],[0.24,2.22],[0.28,2.25],[0.55,2.22],[0.62,2.28],
  [0.90,2.26],[1.00,2.25],[1.40,2.24],[-0.66,2.23],[-0.30,2.23],[-1.32,2.22]
];
const genArmUp = [
  [1.75,1.80],[1.66,1.75],[1.61,1.67],[1.58,1.62],[1.52,1.81],[1.41,1.83],[1.38,1.76],[1.49,1.53],[1.37,1.58],[1.35,1.47],
  [1.29,1.90],[1.27,1.69],[1.24,1.47],[1.19,1.37],[1.16,1.32],[1.10,1.23],[1.04,1.18],[1.00,1.27],[1.05,1.05],[0.96,1.04],
  [0.92,0.94],[0.85,0.85],[0.81,0.77],[0.74,0.67],[0.66,0.75],[0.62,0.64],[0.55,0.60],[0.48,0.55],[0.52,0.44],[0.41,0.46],
  [0.34,0.35],[0.30,0.45],[0.35,0.71],[0.44,0.30],[0.53,0.09],[0.47,0.02],[0.80,1.07],[0.94,1.55],[1.14,1.15],[1.25,1.40],
  [1.31,1.29],[1.40,1.40],[1.46,1.54],[1.56,1.60],[1.68,1.22],[1.68,1.70],[1.72,1.68],[0.81,0.83],[0.71,0.75],[0.64,0.60],
  [0.57,0.51],[0.46,0.38],[0.39,0.30],[0.33,0.19],[0.27,0.25],[0.22,0.12],[0.58,0.62],[0.69,0.70],[0.77,0.79],[0.88,0.90],
  [0.98,1.00],[1.08,1.12],[1.20,1.27],[1.32,1.33],[1.44,1.46],[1.53,1.52],[1.62,1.60],[1.79,1.86],[0.38,0.15],[0.60,0.42],
  [0.75,0.62],[1.02,1.12],[1.15,0.24],
  [1.12,1.20],[1.18,1.30],[1.22,1.33],[1.28,1.40],[1.33,1.42],[1.36,1.52],[1.42,1.50],[1.47,1.58],[1.50,1.62],[1.55,1.66],
  [1.60,1.72],[1.64,1.70],[1.70,1.78],[1.73,1.85],[1.78,1.80],[1.83,1.88],[0.90,0.96],[0.95,0.92],[0.68,0.62],[0.50,0.50]
];
const genArmDown = [
  [0.29,0.00],[0.36,-0.19],[0.42,-0.11],[0.50,-0.25],[0.53,-0.33],[0.55,-0.44],[0.60,-0.37],[0.65,-0.43],[0.57,-0.58],[0.63,-0.58],
  [0.74,-0.44],[0.78,-0.67],[0.82,-0.66],[0.87,-0.64],[0.94,-0.53],[1.05,-0.54],[0.80,-0.77],[0.92,-0.82],[0.91,-0.91],[1.00,-0.96],
  [1.11,-0.96],[1.18,-0.89],[1.21,-1.01],[1.15,-1.04],[1.10,-1.26],[1.25,-1.23],[1.25,-1.27],[1.29,-1.10],[1.36,-0.96],[1.38,-1.13],
  [1.44,-1.24],[1.43,-1.42],[1.46,-1.29],[1.48,-1.46],[1.52,-1.39],[1.56,-1.29],[1.58,-1.38],[1.52,-1.53],[1.48,-1.65],[1.58,-1.64],
  [1.63,-1.59],[1.66,-1.53],[1.71,-1.58],[1.60,-1.71],[1.72,-1.72],[1.75,-1.77],[1.81,-1.70],[1.88,-1.63],[1.29,-1.58],[1.47,-1.81],
  [1.60,-1.90],[1.14,-1.10],[0.57,-0.55],[0.33,-0.52],[0.38,-0.37],[0.45,-0.30],[0.70,-0.50],[1.20,-1.02],[1.22,-1.03],[1.23,-1.06],
  [1.62,-1.62],[1.68,-1.66],[1.64,-1.67],[1.77,-1.83],[1.55,-1.50],[1.41,-1.30],[0.97,-0.88],[0.24,-0.16],[0.31,-0.26],
  [1.50,-1.45],[1.55,-1.56],[1.62,-1.66],[1.66,-1.72],[1.70,-1.64],[1.74,-1.69],[1.78,-1.76],[1.82,-1.80],[1.69,-1.77],[1.64,-1.54],
  [1.57,-1.48],[1.45,-1.35],[1.40,-1.22],[1.33,-1.18],[1.27,-1.13],[1.06,-0.98],[0.85,-0.72],[0.68,-0.60],[0.48,-0.40],[0.40,-0.26]
];
const genBottomBand = [
  [-1.88,-1.96],[-1.80,-1.90],[-1.75,-1.97],[-1.67,-1.90],[-1.57,-1.87],[-1.50,-1.82],[-1.45,-1.92],[-1.40,-1.99],[-1.29,-1.90],[-1.23,-1.85],
  [-1.17,-1.76],[-1.09,-2.15],[-1.02,-1.90],[-0.96,-1.74],[-0.92,-1.85],[-0.86,-1.79],[-0.81,-1.94],[-0.63,-1.85],[-0.57,-1.87],[-0.49,-1.85],
  [-0.37,-1.77],[-0.25,-1.97],[-0.19,-1.93],[-0.09,-1.81],[-0.03,-1.81],[0.02,-1.79],[0.07,-1.85],[0.22,-1.76],[0.28,-1.87],[0.31,-1.82],
  [0.45,-2.04],[0.49,-1.85],[0.56,-1.87],[0.63,-1.93],[0.71,-2.25],[0.78,-2.14],[0.80,-1.88],[0.88,-1.87],[0.94,-1.85],[1.05,-1.85],
  [1.11,-1.79],[1.15,-1.97],[1.23,-1.87],[1.24,-2.01],[1.44,-1.98],[1.48,-1.82],[1.58,-1.90],[1.65,-1.97],[0.09,-1.97],[-0.05,-1.97],
  [0.26,-2.01],[1.03,-1.97],[-1.62,-1.95],[-1.35,-1.88],[-1.15,-1.93],[-0.75,-1.90],[-0.68,-1.97],[-0.45,-1.93],[-0.15,-1.80],[-0.02,-1.82],
  [0.15,-1.93],[0.38,-1.92],[0.66,-1.89],[1.30,-1.92],[1.36,-1.84],[1.53,-1.93],[1.70,-1.90],[0.85,-1.95],[-0.20,-1.97],[-1.12,-1.97]
];
const genScatter = [
  [-2.28,1.75],[-2.52,1.85],[-2.35,1.81],[-2.43,1.55],[-2.41,1.44],[-2.78,1.48],[-2.65,1.27],[-2.52,1.23],[-2.37,1.32],[-2.31,1.38],
  [-2.17,1.83],[-2.11,1.59],[-2.08,1.42],[-2.15,1.33],[-2.21,1.21],[-2.21,1.13],[-2.06,1.09],[-2.02,1.78],[-2.00,1.20],[-1.98,1.33],
  [-3.05,1.20],[-2.74,1.02],[-2.82,0.80],[-2.30,0.90],[-2.20,0.62],[-2.14,0.47],[-2.09,0.56],[-2.34,0.41],[-2.17,0.29],[-2.08,0.14],
  [-2.27,0.16],[-2.36,0.06],[-2.00,0.84],[-2.00,0.69],[-1.96,1.94],[-1.89,1.88],[-1.86,1.72],[-1.80,1.67],[-1.81,1.60],[-1.76,1.94],
  [-1.73,1.94],[-1.65,1.86],[-1.62,1.76],[-1.57,1.76],[-1.55,1.90],[-1.50,1.65],[-1.60,1.48],[-1.67,1.40],[-1.52,1.50],[-1.49,1.37],
  [-1.53,0.41],[-1.71,0.29],[-1.62,0.01],[-1.58,0.08],[-1.38,1.21],[-1.31,1.30],[-1.28,1.25],[-1.33,1.05],[-1.43,0.92],[-1.23,0.95],
  [-1.24,0.80],[-1.20,0.77],[-1.09,0.80],[-1.04,0.77],[-1.12,1.13],[-1.08,1.07],[-1.35,0.53],[-1.19,0.23],[-1.32,0.01],[-1.02,0.10],
  [-1.11,1.68],[-1.07,1.82],[-0.97,1.87],[-0.85,1.94],[-0.85,1.73],[-1.16,2.01],[-0.72,1.51],[-0.71,1.30],[-0.56,1.55],[-0.53,1.83],
  [-0.56,1.96],[-0.27,1.88],[-0.23,1.88],[-0.37,1.52],[-0.09,1.50],[-0.03,2.06],[-0.17,1.09],[-0.11,1.05],[-0.50,1.01],[-0.41,0.73],
  [-0.31,0.79],[-0.16,0.74],[-0.07,0.82],[-0.33,0.58],[-0.28,0.41],[-0.54,0.05],[0.20,1.64],[0.27,1.86],[-1.80,-0.10],
  [-0.54,-0.15],[-0.62,-0.32],[-0.66,-0.48],[-0.56,-0.48],[-0.51,-0.41],[-0.49,-0.64],[-0.47,-0.64],[-0.33,-1.21],[-0.62,-1.36],[-0.82,-0.68],
  [-1.02,-0.69],[-0.99,-0.69],[-1.09,-0.50],[-1.08,-1.12],[-1.03,-1.10],[-1.19,-0.77],[-1.14,-0.82],[-1.10,-0.84],[-1.14,-0.94],[-1.25,-0.25],
  [-1.43,-0.30],[-1.36,-0.67],[-1.36,-0.80],[-1.40,-0.95],[-1.27,-1.17],[-1.36,-1.17],[-1.44,-1.24],[-1.52,-1.31],[-1.53,-1.37],[-1.36,-1.45],
  [-1.41,-1.45],[-1.47,-1.41],[-1.55,-0.39],[-1.66,-0.43],[-1.65,-0.94],[-1.60,-1.07],[-1.55,-0.67],[-1.69,-0.66],[-1.80,-0.11],[-1.95,-0.96],
  [-1.86,-1.06],[-1.76,-1.18],[-1.77,-1.42],[-1.68,-1.44],[-1.58,-1.61],[-1.63,-1.60],[-1.71,-1.57],[-1.74,-1.75],[-1.79,-1.82],[-1.64,-1.68],
  [-1.89,-1.74],[-1.95,-1.59],[-2.05,-1.53],[-2.10,-1.74],[-2.13,-1.71],[-2.09,-1.28],[-2.14,-1.09],[-2.08,-1.21],[-2.11,-0.82],[-2.20,-0.97],
  [-2.10,-0.36],[-2.13,-0.36],[-2.40,-0.38],[-2.54,-0.45],[-2.58,-0.20],[-2.49,-0.17],[-2.41,-0.15],[-2.76,-0.25],[-2.70,-0.58],[-2.59,-1.02],
  [-2.63,-1.22],[-2.54,-1.45],[-2.39,-1.47],[-2.49,-1.87],[-2.30,-0.72],[-2.28,-1.66],[-2.29,-1.85],[-0.87,-1.50],[-0.76,-1.67],[0.04,-1.45],
  [0.16,-1.60],[0.26,-1.66],[0.17,-1.29],[0.21,-1.37],[0.28,-1.07],[0.52,-1.09],[0.47,-1.32],[0.51,-1.70],[0.80,-1.42],[0.88,-1.29],
  [0.94,-1.32],[-0.20,-1.20]
];

const realPoints = [realTopLeft, realTopRight, realCenter, realBottomLeft, realBottomRight]
  .flat().map(([x, y]) => ({ x, y }));
const genPoints = [genTopLeft, genTopRight, genCenter, genBottomLeft, genBottomRight,
  genTopBand, genArmUp, genArmDown, genBottomBand, genScatter]
  .flat().map(([x, y]) => ({ x, y }));

Chart.defaults.font.family = "'DejaVu Sans'";
Chart.defaults.color = '#000';

// spines on all four sides plus a matplotlib-style legend box inside the axes
const frameLegend = {
  id: 'frameLegend',
  afterDraw(chart, args, opts) {
    const { ctx, chartArea: ca } = chart;
    ctx.save();
    ctx.strokeStyle = '#000';
    ctx.lineWidth = 1.1;
    ctx.strokeRect(ca.left, ca.top, ca.right - ca.left, ca.bottom - ca.top);

    ctx.font = "13.9px 'DejaVu Sans'";
    const tw = ctx.measureText(opts.text).width;
    const w = 44.5 + tw + 7, h = 25;
    const x = opts.corner === 'upper left' ? ca.left + 7.5 : ca.right - 7 - w;
    const y = opts.corner === 'upper left' ? ca.top + 7 : ca.bottom - 7 - h;
    ctx.beginPath();
    ctx.roundRect(x, y, w, h, 3);
    ctx.fillStyle = 'rgba(255,255,255,0.8)';
    ctx.fill();
    ctx.strokeStyle = 'rgba(204,204,204,0.8)';
    ctx.lineWidth = 1;
    ctx.stroke();
    ctx.beginPath();
    ctx.arc(x + 19, y + h / 2, 2.6, 0, Math.PI * 2);
    ctx.fillStyle = opts.color;
    ctx.fill();
    ctx.fillStyle = '#000';
    ctx.textBaseline = 'middle';
    ctx.fillText(opts.text, x + 44.5, y + h / 2 + 0.5);
    ctx.restore();
  }
};

const minusFmt = v => String(v).replace('-', '\u2212');

function makeOptions(title, xr, yr, yTicks, yWidth, padRight, legend) {
  return {
    responsive: true,
    maintainAspectRatio: false,
    animation: false,
    layout: { padding: { left: 0, right: padRight, top: 0, bottom: 0 } },
    plugins: {
      legend: { display: false },
      tooltip: { enabled: false },
      title: {
        display: true, text: title, fullSize: false,
        font: { size: 16.7, weight: 'normal' }, color: '#000',
        padding: { top: 47, bottom: 4.3 }
      },
      frameLegend: legend
    },
    scales: {
      x: {
        type: 'linear', min: xr[0], max: xr[1],
        afterBuildTicks: s => { s.ticks = axisTicks.map(v => ({ value: v })); },
        afterFit: s => { s.height = 53; },
        ticks: { font: { size: 13.9 }, padding: 2, callback: minusFmt, maxRotation: 0 },
        grid: { color: '#e6e6e6', lineWidth: 1.1, tickColor: '#000', tickWidth: 1.1, tickLength: 5 },
        border: { display: false },
        title: { display: true, text: 'Feature 1', font: { size: 13.9 }, padding: { top: 0, bottom: 10.5 } }
      },
      y: {
        type: 'linear', min: yr[0], max: yr[1],
        afterBuildTicks: s => { s.ticks = yTicks.map(v => ({ value: v })); },
        afterFit: s => { s.width = yWidth; },
        ticks: { font: { size: 13.9 }, padding: 6, callback: minusFmt },
        grid: { color: '#e6e6e6', lineWidth: 1.1, tickColor: '#000', tickWidth: 1.1, tickLength: 5 },
        border: { display: false },
        title: { display: true, text: 'Feature 2', font: { size: 13.9 }, padding: { top: 8, bottom: 0 } }
      }
    }
  };
}

new Chart(document.getElementById('realChart'), {
  type: 'scatter',
  data: {
    datasets: [{
      label: 'Real',
      data: realPoints,
      pointRadius: 2.6,
      pointBorderWidth: 0,
      backgroundColor: 'rgba(70,130,180,0.5)',
      borderColor: 'rgba(70,130,180,0.5)'
    }]
  },
  options: makeOptions('Real Data', [-3.27, 3.23], [-3.42, 3.51], axisTicks, 60, 5.7,
    { text: 'Real', corner: 'upper left', color: 'rgba(70,130,180,0.5)' }),
  plugins: [frameLegend]
});

new Chart(document.getElementById('genChart'), {
  type: 'scatter',
  data: {
    datasets: [{
      label: 'Generated',
      data: genPoints,
      pointRadius: 2.6,
      pointBorderWidth: 0,
      backgroundColor: 'rgba(255,99,71,0.5)',
      borderColor: 'rgba(255,99,71,0.5)'
    }]
  },
  options: makeOptions('Generated Data', [-3.35, 3.15], [-3.12, 3.01], genYTicks, 58.3, 8.7,
    { text: 'Generated', corner: 'lower right', color: 'rgba(255,99,71,0.5)' }),
  plugins: [frameLegend]
});
</script>
</body>
</html>
